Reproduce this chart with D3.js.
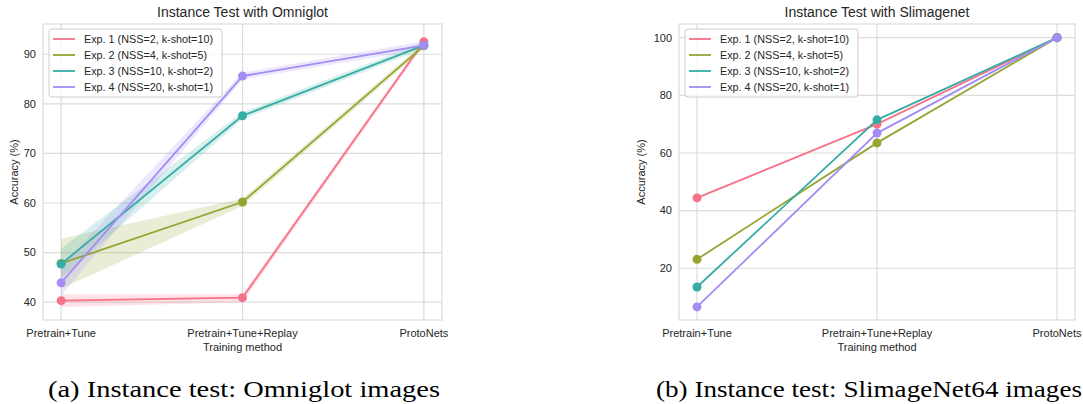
<!DOCTYPE html>
<html>
<head>
<meta charset="utf-8">
<script src="https://cdn.jsdelivr.net/npm/d3@7"></script>
<style>
  body { margin: 0; background: white; }
  svg { display: block; }
</style>
</head>
<body>
<script>
// categories on the x axis (same for both panels)
const methods = ["Pretrain+Tune", "Pretrain+Tune+Replay", "ProtoNets"];

const expNames = [
    "Exp. 1 (NSS=2, k-shot=10)",
    "Exp. 2 (NSS=4, k-shot=5)",
    "Exp. 3 (NSS=10, k-shot=2)",
    "Exp. 4 (NSS=20, k-shot=1)"
];
const expColors = ["#f77189", "#97a431", "#36ada4", "#a48cf4"];

// Omniglot panel: mean accuracy per method, with lower/upper band
const omniMean = [
    [40.3, 40.9, 92.5],
    [47.8, 60.2, 91.7],
    [47.7, 77.6, 91.8],
    [43.9, 85.6, 91.8]
];
const omniLow = [
    [39.0, 40.0, 91.9],
    [42.7, 59.4, 91.1],
    [44.8, 76.9, 91.1],
    [41.3, 84.9, 91.0]
];
const omniHigh = [
    [41.6, 41.6, 93.0],
    [52.8, 60.9, 92.3],
    [50.8, 78.3, 92.5],
    [47.2, 86.3, 92.6]
];
const omniTicks = [40, 50, 60, 70, 80, 90];

// Slimagenet panel: mean accuracy only
const slimMean = [
    [44.4, 70.0, 100.0],
    [23.1, 63.5, 100.0],
    [13.5, 71.5, 100.0],
    [6.6, 66.9, 100.0]
];
const slimTicks = [20, 40, 60, 80, 100];

const WIDTH = 1083;
const HEIGHT = 404;
const FONT = "'Liberation Sans', Arial, sans-serif";
const TEXT = "#262626";
const GRID = "#dcdcdc";

const svg = d3.select("body").append("svg")
    .attr("width", WIDTH)
    .attr("height", HEIGHT);

svg.append("rect").attr("width", WIDTH).attr("height", HEIGHT).attr("fill", "white");

function drawPanel(p) {
    const g = svg.append("g");

    const x = d3.scalePoint().domain(methods).range([p.left, p.right]).padding(0.1);
    const y = d3.scaleLinear().domain(p.yDomain).range([p.bottom, p.top]);

    // grid
    g.selectAll(".hgrid").data(p.ticks).join("line")
        .attr("x1", p.left).attr("x2", p.right)
        .attr("y1", d => y(d)).attr("y2", d => y(d))
        .attr("stroke", GRID).attr("stroke-width", 1.2);
    g.selectAll(".vgrid").data(methods).join("line")
        .attr("x1", d => x(d)).attr("x2", d => x(d))
        .attr("y1", p.top).attr("y2", p.bottom)
        .attr("stroke", GRID).attr("stroke-width", 1.2);

    // frame
    g.append("rect")
        .attr("x", p.left).attr("y", p.top)
        .attr("width", p.right - p.left).attr("height", p.bottom - p.top)
        .attr("fill", "none").attr("stroke", GRID).attr("stroke-width", 1.2);

    // tick labels
    g.selectAll(".ytl").data(p.ticks).join("text")
        .attr("x", p.left - 7).attr("y", d => y(d))
        .attr("dy", "0.35em").attr("text-anchor", "end")
        .attr("font-family", FONT).attr("font-size", 11).attr("fill", TEXT)
        .text(d => d);
    g.selectAll(".xtl").data(methods).join("text")
        .attr("x", d => x(d)).attr("y", p.bottom + 17)
        .attr("text-anchor", "middle")
        .attr("font-family", FONT).attr("font-size", 11).attr("fill", TEXT)
        .text(d => d);

    // axis labels + title
    g.append("text")
        .attr("x", (p.left + p.right) / 2).attr("y", p.bottom + 31)
        .attr("text-anchor", "middle")
        .attr("font-family", FONT).attr("font-size", 11).attr("fill", TEXT)
        .text("Training method");
    g.append("text")
        .attr("transform", `translate(${p.ylabX},${(p.top + p.bottom) / 2}) rotate(-90)`)
        .attr("text-anchor", "middle")
        .attr("font-family", FONT).attr("font-size", 11).attr("fill", TEXT)
        .text("Accuracy (%)");
    g.append("text")
        .attr("x", (p.left + p.right) / 2).attr("y", p.top - 7)
        .attr("text-anchor", "middle")
        .attr("font-family", FONT).attr("font-size", 14).attr("fill", TEXT)
        .text(p.title);

    // confidence bands
    if (p.low) {
        const area = d3.area()
            .x((d, i) => x(methods[i]))
            .y0(d => y(d[0]))
            .y1(d => y(d[1]));
        p.mean.forEach((s, k) => {
            const pts = s.map((v, i) => [p.low[k][i], p.high[k][i]]);
            g.append("path").attr("d", area(pts))
                .attr("fill", expColors[k]).attr("fill-opacity", 0.2);
        });
    }

    // lines + markers
    const line = d3.line().x((d, i) => x(methods[i])).y(d => y(d));
    p.mean.forEach((s, k) => {
        g.append("path").attr("d", line(s))
            .attr("fill", "none").attr("stroke", expColors[k]).attr("stroke-width", 1.8);
        g.selectAll(null).data(s).join("circle")
            .attr("cx", (d, i) => x(methods[i])).attr("cy", d => y(d))
            .attr("r", 4.5).attr("fill", expColors[k]);
    });

    // legend
    const lg = g.append("g").attr("transform", `translate(${p.left + 6},${p.top + 5})`);
    lg.append("rect")
        .attr("width", 173).attr("height", 68).attr("rx", 3)
        .attr("fill", "white").attr("fill-opacity", 0.8)
        .attr("stroke", "#cccccc").attr("stroke-width", 1);
    expNames.forEach((name, k) => {
        const yy = 10 + k * 16;
        lg.append("line")
            .attr("x1", 4).attr("x2", 26).attr("y1", yy).attr("y2", yy)
            .attr("stroke", expColors[k]).attr("stroke-width", 1.8);
        lg.append("text")
            .attr("x", 35).attr("y", yy).attr("dy", "0.35em")
            .attr("font-family", FONT).attr("font-size", 10.8).attr("fill", TEXT)
            .text(name);
    });

    // caption
    svg.append("text")
        .attr("x", p.capX).attr("y", 397)
        .attr("text-anchor", "middle")
        .attr("font-family", "'Liberation Serif', 'DejaVu Serif', serif")
        .attr("font-size", 24).attr("fill", "black")
        .attr("textLength", p.capW).attr("lengthAdjust", "spacingAndGlyphs")
        .text(p.caption);
}

drawPanel({
    left: 43, right: 442, top: 24, bottom: 320, ylabX: 18,
    yDomain: [36.4, 96.1], ticks: omniTicks,
    mean: omniMean, low: omniLow, high: omniHigh,
    title: "Instance Test with Omniglot",
    caption: "(a) Instance test: Omniglot images", capX: 244, capW: 392
});

drawPanel({
    left: 679, right: 1075, top: 24, bottom: 320, ylabX: 645,
    yDomain: [2.05, 104.75], ticks: slimTicks,
    mean: slimMean, low: null, high: null,
    title: "Instance Test with Slimagenet",
    caption: "(b) Instance test: SlimageNet64 images", capX: 869, capW: 426
});
</script>
</body>
</html>
